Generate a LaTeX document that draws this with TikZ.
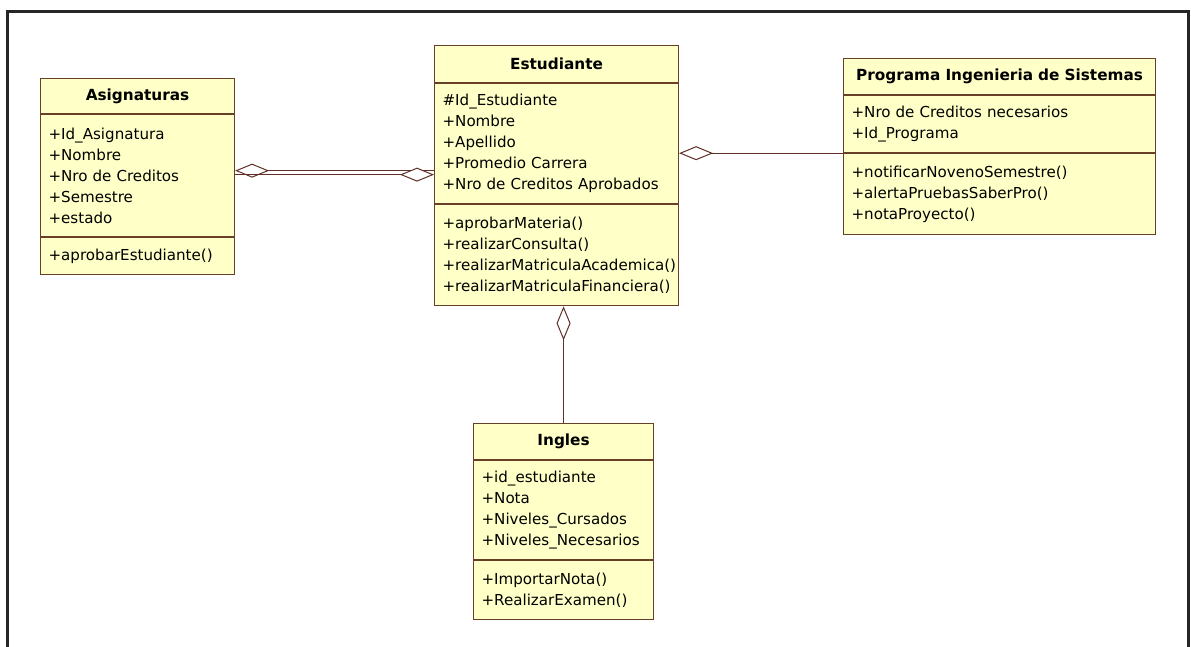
\documentclass[tikz,border=0pt]{standalone}
\usepackage{fontspec}
\setmainfont{DejaVu Sans}
\usetikzlibrary{arrows.meta}

\definecolor{classfill}{RGB}{255,255,200}
\definecolor{classline}{RGB}{104,64,40}
\definecolor{linkline}{RGB}{96,48,40}

\tikzset{
  classpart/.style={draw=classline, fill=classfill, line width=1.1pt,
    anchor=north west, inner xsep=8pt, inner ysep=0pt, align=left,
    font=\fontsize{15.1}{21}\selectfont},
  classhead/.style={classpart, align=center,
    font=\fontsize{15.3}{21}\selectfont\bfseries},
  aggregation/.style={draw=linkline, line width=1.1pt,
    {Diamond[length=34pt, width=14pt, fill=white, line width=1pt]}-},
}

\newcommand{\classbox}[8]{%
  % #1 name, #2 x, #3 y, #4 width, #5 head height, #6 attr height,
  % #7 method height, #8 title
  \node[classhead, minimum width=#4pt, text width=#4pt-16pt,
        minimum height=#5pt] (#1H) at (#2,#3) {#8};
  \node[classpart, minimum width=#4pt, text width=#4pt-16pt,
        minimum height=#6pt] (#1A) at (#1H.south west) {\csname #1attr\endcsname};
  \node[classpart, minimum width=#4pt, text width=#4pt-16pt,
        minimum height=#7pt] (#1M) at (#1A.south west) {\csname #1meth\endcsname};
}

% compartment contents
\expandafter\def\csname asgattr\endcsname{+Id\_Asignatura\\+Nombre\\+Nro de Creditos\\+Semestre\\+estado}
\expandafter\def\csname asgmeth\endcsname{+aprobarEstudiante()}
\expandafter\def\csname estattr\endcsname{\#Id\_Estudiante\\+Nombre\\+Apellido\\+Promedio Carrera\\+Nro de Creditos Aprobados}
\expandafter\def\csname estmeth\endcsname{+aprobarMateria()\\+realizarConsulta()\\+realizarMatriculaAcademica()\\+realizarMatriculaFinanciera()}
\expandafter\def\csname prgattr\endcsname{+Nro de Creditos necesarios\\+Id\_Programa}
\expandafter\def\csname prgmeth\endcsname{+notificarNovenoSemestre()\\+alertaPruebasSaberPro()\\+notaProyecto()}
\expandafter\def\csname ingattr\endcsname{+id\_estudiante\\+Nota\\+Niveles\_Cursados\\+Niveles\_Necesarios}
\expandafter\def\csname ingmeth\endcsname{+ImportarNota()\\+RealizarExamen()}

\begin{document}
\begin{tikzpicture}[x=1pt, y=-1pt]
  \useasboundingbox (0,0) rectangle (1191,647);
  \clip (0,0) rectangle (1191,647);
  \fill[white] (0,0) rectangle (1191,647);

  % outer frame
  \draw[line width=3pt, black!85] (7.5,11.5) rectangle (1188.5,700);

  % classes
  \classbox{asg}{40}{78}{194}{35}{122}{37}{Asignaturas}
  \classbox{est}{434}{45}{244}{37}{120}{101}{Estudiante}
  \classbox{prg}{843}{58}{312}{36}{57}{81}{Programa Ingenieria de Sistemas}
  \classbox{ing}{473}{423}{180}{36}{99}{59}{Ingles}

  % aggregations
  \draw[aggregation] ([yshift=5pt]asgA.east)
    -- ([yshift=5pt]asgA.east -| estA.west);
  \draw[aggregation] ([yshift=1pt]asgA.east -| estA.west)
    -- ([yshift=1pt]asgA.east);
  \draw[aggregation] (prgA.south west -| estA.east) -- (prgA.south west);
  \draw[aggregation] (ingH.north |- estM.south) -- (ingH.north);
\end{tikzpicture}
\end{document}
